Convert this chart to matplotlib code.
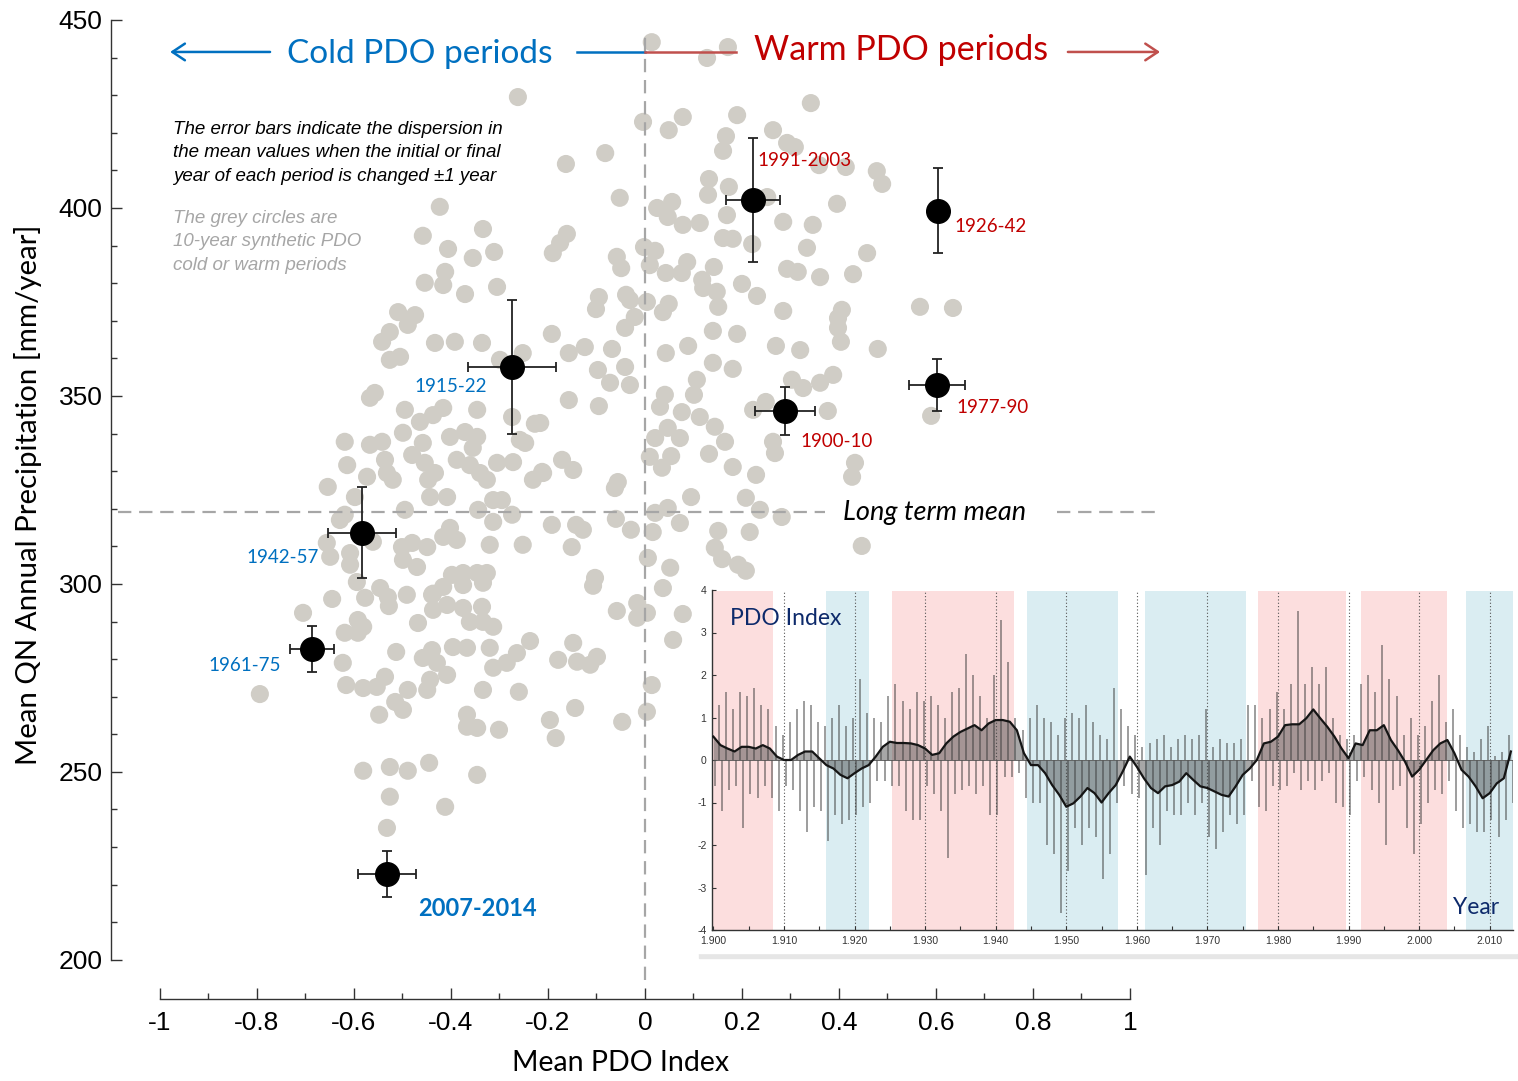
import matplotlib
matplotlib.use("Agg")
import matplotlib.pyplot as plt
import numpy as np
from matplotlib.patches import Rectangle

# ---- data -----------------------------------------------------------------
# grey circles: 10-year synthetic PDO periods (mean PDO index, mean precip)
synth_pdo = [
    0.014, 0.128, 0.171, -0.262, 0.342, -0.004, 0.078, 0.049, 0.190, 0.264,
    0.167, 0.161, 0.293, 0.309, -0.082, -0.163, 0.359, 0.414, 0.478, 0.489,
    0.132, 0.130, 0.173, 0.252, -0.052, 0.396, 0.025, 0.056, 0.047, 0.078,
    0.113, 0.169, 0.285, 0.346, -0.161, -0.175, -0.190, 0.161, 0.181, 0.221,
    0.334, 0.458, -0.058, -0.049, -0.002, 0.021, 0.010, 0.043, 0.087, 0.076,
    0.142, 0.293, 0.315, 0.361, 0.429, 0.118, 0.120, 0.148, 0.151, 0.200,
    0.231, -0.095, -0.101, -0.039, -0.031, 0.004, 0.049, 0.037, -0.021, -0.041,
    0.285, 0.406, 0.398, 0.398, 0.567, 0.635, -0.192, 0.140, 0.190, 0.404,
    0.320, 0.480, 0.388, 0.361, 0.326, 0.377, 0.590, -0.157, -0.124, -0.068,
    -0.097, -0.041, -0.072, -0.031, -0.157, -0.095, -0.216, -0.171, -0.148, -0.210,
    -0.056, -0.062, 0.043, 0.089, 0.140, 0.181, 0.270, 0.107, 0.101, 0.041,
    0.031, 0.076, 0.113, 0.144, 0.165, 0.072, 0.047, 0.021, 0.010, 0.035,
    0.054, 0.132, 0.181, 0.229, 0.303, 0.249, 0.223, 0.264, 0.268, 0.433,
    0.427, 0.095, 0.208, 0.237, 0.282, 0.047, 0.021, 0.072, 0.016, -0.029,
    -0.060, -0.128, -0.142, -0.192, -0.151, 0.151, 0.216, 0.144, 0.159, 0.192,
    0.208, 0.006, 0.052, 0.447, -0.103, -0.107, -0.058, -0.016, -0.016, 0.004,
    0.037, 0.078, 0.058, 0.014, 0.004, -0.047, -0.144, -0.196, -0.184, -0.179,
    -0.148, -0.140, -0.113, -0.099, -0.594, -0.546, -0.530, -0.528, -0.577, -0.645,
    -0.491, -0.705, -0.592, -0.581, -0.619, -0.592, -0.623, -0.616, -0.581, -0.553,
    -0.536, -0.515, -0.499, -0.548, -0.513, -0.468, -0.439, -0.416, -0.375, -0.334,
    -0.437, -0.408, -0.375, -0.336, -0.361, -0.334, -0.313, -0.458, -0.439, -0.429,
    -0.408, -0.443, -0.449, -0.489, -0.396, -0.367, -0.320, -0.334, -0.313, -0.285,
    -0.264, -0.237, -0.260, -0.367, -0.346, -0.367, -0.301, -0.794, -0.581, -0.526,
    -0.489, -0.445, -0.346, -0.526, -0.412, -0.532, -0.454, -0.416, -0.371, -0.305,
    -0.509, -0.474, -0.489, -0.526, -0.542, -0.526, -0.505, -0.433, -0.392, -0.336,
    -0.252, -0.299, -0.557, -0.567, -0.495, -0.464, -0.437, -0.416, -0.346, -0.274,
    -0.227, -0.619, -0.567, -0.542, -0.499, -0.458, -0.480, -0.402, -0.371, -0.346,
    -0.355, -0.258, -0.247, -0.536, -0.614, -0.573, -0.532, -0.520, -0.454, -0.433,
    -0.447, -0.443, -0.408, -0.388, -0.361, -0.340, -0.326, -0.305, -0.272, -0.231,
    -0.212, -0.654, -0.598, -0.495, -0.344, -0.313, -0.295, -0.274, -0.313, -0.619,
    -0.629, -0.656, -0.649, -0.608, -0.608, -0.561, -0.501, -0.480, -0.499, -0.470,
    -0.449, -0.416, -0.402, -0.388, -0.320, -0.252, -0.398, -0.375, -0.346, -0.326,
    -0.437, -0.423, -0.458, -0.334, -0.406, -0.355, -0.311, -0.412,
]
synth_precip = [
    444.1, 439.9, 442.8, 429.5, 427.9, 422.9, 424.2, 420.7, 424.7, 420.7,
    419.1, 415.2, 417.3, 416.2, 414.6, 411.7, 411.4, 410.9, 409.8, 406.4,
    407.7, 403.5, 405.6, 402.9, 402.7, 401.1, 400.0, 401.6, 397.6, 395.5,
    396.0, 398.1, 396.3, 395.5, 393.1, 390.7, 388.0, 392.0, 391.8, 390.4,
    389.4, 388.0, 387.0, 384.0, 389.6, 388.6, 384.8, 382.7, 385.6, 382.7,
    384.3, 383.8, 383.0, 381.6, 382.4, 380.9, 378.7, 377.7, 373.7, 379.8,
    376.6, 376.3, 373.1, 376.9, 375.5, 375.0, 374.5, 372.3, 371.0, 368.1,
    372.6, 372.9, 370.7, 368.1, 373.7, 373.4, 366.5, 367.3, 366.5, 364.4,
    362.2, 362.5, 355.6, 353.5, 352.1, 346.0, 344.7, 361.4, 363.0, 362.5,
    356.9, 357.7, 353.5, 352.9, 348.9, 347.3, 342.8, 333.0, 330.3, 329.5,
    327.1, 325.5, 361.4, 363.3, 358.8, 357.2, 363.3, 354.3, 350.3, 350.3,
    347.1, 345.7, 344.4, 341.8, 337.8, 338.8, 341.5, 338.8, 333.8, 330.9,
    334.0, 334.6, 331.1, 329.0, 354.3, 348.4, 346.3, 337.8, 334.8, 332.2,
    328.5, 323.1, 322.9, 319.7, 317.8, 320.2, 318.9, 316.2, 313.8, 314.4,
    317.3, 314.4, 315.7, 315.7, 309.8, 314.1, 313.8, 309.6, 306.6, 305.1,
    303.5, 306.9, 304.3, 310.1, 301.6, 299.5, 292.8, 294.9, 291.0, 292.3,
    298.9, 292.0, 285.1, 273.1, 266.0, 263.3, 267.0, 263.8, 259.0, 279.8,
    284.3, 279.3, 278.5, 280.6, 300.5, 298.9, 296.5, 294.1, 296.3, 296.0,
    297.1, 292.3, 290.4, 288.6, 287.0, 287.0, 279.0, 273.1, 272.3, 272.6,
    275.3, 268.6, 266.5, 265.2, 281.9, 289.6, 297.1, 299.2, 299.7, 300.3,
    293.1, 294.4, 293.6, 293.9, 289.9, 289.9, 288.6, 280.3, 282.4, 279.0,
    275.8, 274.5, 271.8, 271.8, 283.2, 283.0, 283.0, 271.8, 277.7, 279.0,
    281.6, 284.8, 271.3, 265.2, 261.7, 262.0, 261.2, 270.7, 250.3, 251.3,
    250.3, 252.4, 249.2, 243.4, 240.7, 235.1, 380.1, 379.5, 377.1, 379.0,
    372.3, 371.5, 368.9, 367.0, 364.4, 359.6, 360.4, 364.1, 364.4, 364.1,
    361.4, 359.6, 350.8, 349.5, 346.3, 343.1, 344.9, 346.8, 346.3, 344.4,
    342.6, 337.8, 337.0, 337.8, 340.2, 337.5, 334.3, 339.1, 340.4, 339.1,
    336.2, 338.3, 337.5, 333.0, 331.6, 328.5, 329.5, 327.7, 332.2, 329.5,
    327.7, 323.1, 323.1, 333.0, 331.6, 329.5, 327.7, 332.2, 332.4, 327.7,
    329.8, 325.8, 323.1, 319.7, 319.7, 322.3, 322.3, 318.4, 316.5, 318.4,
    317.0, 310.9, 307.2, 308.2, 305.1, 311.2, 309.8, 310.9, 306.4, 304.5,
    309.8, 312.5, 314.9, 311.7, 310.4, 310.4, 302.4, 302.9, 302.9, 302.9,
    297.4, 400.3, 392.6, 394.4, 389.1, 386.7, 388.3, 383.0,
]

# observed PDO periods (black points with error bars)
period_names = ["1991-2003", "1926-42", "1977-90", "1900-10",
                "1915-22", "1942-57", "1961-75", "2007-2014"]
period_pdo = [0.223, 0.604, 0.602, 0.289, -0.274, -0.584, -0.687, -0.532]
period_precip = [402.1, 399.2, 352.9, 346.0, 357.7, 313.6, 282.7, 222.9]
period_xerr = [0.056, 0.0, 0.058, 0.062, 0.091, 0.070, 0.045, 0.060]
period_yerr = [16.4, 11.3, 6.8, 6.5, 17.7, 12.1, 6.1, 6.1]
period_warm = [True, True, True, True, False, False, False, False]

LONG_TERM_MEAN = 319.0

x_ticks = [-1, -0.8, -0.6, -0.4, -0.2, 0, 0.2, 0.4, 0.6, 0.8, 1]
x_ticklabels = ["-1", "-0.8", "-0.6", "-0.4", "-0.2", "0",
                "0.2", "0.4", "0.6", "0.8", "1"]
y_ticks = [200, 250, 300, 350, 400, 450]

# inset: PDO index history
pdo_years = list(range(1900, 2014))
pdo_smooth = [
    0.55, 0.35, 0.27, 0.20, 0.31, 0.31, 0.27, 0.35, 0.27, 0.08,
    0.00, 0.00, 0.12, 0.20, 0.20, 0.04, -0.12, -0.20, -0.35, -0.43,
    -0.31, -0.20, -0.12, 0.08, 0.31, 0.43, 0.40, 0.40, 0.39, 0.35,
    0.27, 0.12, 0.16, 0.39, 0.55, 0.66, 0.74, 0.82, 0.70, 0.86,
    0.94, 0.94, 0.90, 0.70, 0.16, -0.12, -0.12, -0.31, -0.59, -0.82,
    -1.10, -1.02, -0.86, -0.66, -0.78, -1.00, -0.78, -0.59, -0.27, 0.08,
    -0.16, -0.43, -0.66, -0.78, -0.62, -0.59, -0.51, -0.31, -0.47, -0.62,
    -0.66, -0.74, -0.82, -0.86, -0.62, -0.35, -0.20, 0.00, 0.39, 0.43,
    0.55, 0.82, 0.84, 0.84, 0.98, 1.19, 0.98, 0.78, 0.55, 0.27,
    0.04, 0.39, 0.35, 0.70, 0.70, 0.82, 0.47, 0.23, -0.04, -0.39,
    -0.23, 0.00, 0.23, 0.39, 0.47, 0.16, -0.23, -0.39, -0.62, -0.90,
    -0.78, -0.55, -0.43, 0.20,
]
pdo_high = [
    1.0, 1.3, 1.6, 1.2, 1.6, 1.5, 1.7, 1.3, 1.2, 0.8,
    0.6, 0.9, 1.2, 1.4, 1.3, 0.9, 0.8, 1.0, 1.3, 0.8,
    1.0, 1.9, 1.1, 1.0, 0.9, 1.5, 1.8, 1.4, 1.2, 1.6,
    1.4, 1.5, 1.3, 1.0, 1.6, 1.7, 2.5, 2.0, 1.5, 1.0,
    2.0, 3.3, 2.3, 1.0, 0.7, 1.0, 1.3, 1.0, 0.9, 0.6,
    1.0, 1.1, 1.0, 1.3, 0.9, 0.6, 0.5, 1.7, 1.2, 0.8,
    0.6, 0.3, 0.4, 0.5, 0.6, 0.3, 0.5, 0.6, 0.5, 0.6,
    1.2, 0.3, 0.5, 0.4, 0.4, 0.5, 1.3, 1.3, 1.0, 1.2,
    1.6, 1.2, 1.8, 3.5, 1.8, 2.2, 1.8, 2.2, 1.0, 0.6,
    0.5, 0.6, 1.8, 2.0, 1.6, 2.7, 1.9, 1.5, 0.6, 1.0,
    0.6, 0.8, 1.4, 2.0, 0.9, 1.2, 0.6, 0.3, 0.2, 0.5,
    0.8, 0.1, 0.2, 0.6,
]
pdo_low = [
    -0.6, -1.2, -0.7, -0.6, -1.6, -0.8, -0.9, -0.6, -0.9, -1.2,
    -0.6, -0.7, -1.2, -1.7, -1.1, -1.2, -1.9, -1.3, -1.5, -1.4,
    -1.3, -1.1, -1.0, -0.5, -0.5, -0.6, -0.6, -1.2, -1.4, -1.4,
    -0.6, -0.8, -1.2, -2.3, -0.8, -0.7, -0.6, -0.8, -0.6, -1.3,
    -1.3, -0.4, -0.4, -0.3, -0.9, -1.0, -1.0, -2.0, -2.2, -3.6,
    -2.6, -1.6, -2.0, -1.6, -1.8, -2.8, -2.2, -1.0, -0.6, -0.8,
    -0.9, -2.7, -1.6, -2.0, -1.2, -1.3, -1.3, -1.0, -1.3, -1.0,
    -1.8, -2.1, -1.7, -1.3, -1.5, -1.3, -0.5, -1.1, -1.2, -0.6,
    -0.7, -0.6, -0.3, -0.7, -0.5, -0.7, -0.5, -0.3, -1.0, -1.1,
    -1.3, -0.5, -0.4, -0.7, -1.0, -2.0, -0.7, -0.6, -1.6, -2.2,
    -1.5, -1.0, -0.7, -0.8, -0.5, -1.2, -1.6, -1.5, -1.7, -1.7,
    -1.4, -1.8, -1.4, -1.0,
]
warm_spans = [(1900.0, 1908.5), (1925.3, 1942.6), (1977.2, 1989.7), (1991.7, 2003.9)]
cold_spans = [(1916.0, 1922.0), (1944.4, 1957.3), (1961.2, 1975.4), (2006.6, 2013.3)]
inset_xticks = [1900, 1910, 1920, 1930, 1940, 1950, 1960, 1970, 1980, 1990, 2000, 2010]
inset_xticklabels = ["1.900", "1.910", "1.920", "1.930", "1.940", "1.950",
                     "1.960", "1.970", "1.980", "1.990", "2.000", "2.010"]
inset_yticks = [-4, -3, -2, -1, 0, 1, 2, 3, 4]

# ---- style ----------------------------------------------------------------
BLUE = "#0070c0"
RED = "#c00000"
RED_ARROW = "#c0504d"
GREY_DOT = "#d0cdc6"
DASH_GREY = "#a6a6a6"
PINK = "#fcdede"
LBLUE = "#daedf2"
NAVY = "#0d2a6b"
SANS = ["Liberation Sans", "DejaVu Sans"]
CAL = ["Lato", "DejaVu Sans"]

fig = plt.figure(figsize=(15.18, 10.81), dpi=100)
fig.patch.set_facecolor("white")

ax = fig.add_axes([0.0731, 0.0759, 0.6911, 0.9056])
ax.set_xlim(-1.101, 1.062)
ax.set_ylim(189.6, 450)
ax.patch.set_alpha(0)

for side in ("top", "right"):
    ax.spines[side].set_visible(False)
ax.spines["left"].set_bounds(200, 450)
ax.spines["bottom"].set_bounds(-1, 1)
for side in ("left", "bottom"):
    ax.spines[side].set_color("#333333")
    ax.spines[side].set_linewidth(1.0)

ax.set_xticks(x_ticks)
ax.set_xticklabels(x_ticklabels)
ax.set_xticks(np.arange(-0.9, 1.0, 0.2), minor=True)
ax.set_yticks(y_ticks)
ax.set_yticklabels([str(v) for v in y_ticks])
ax.set_yticks(np.arange(210, 450, 10), minor=True)
ax.tick_params(which="major", direction="in", length=8, width=1.0,
               color="#333333", labelsize=19, pad=9)
ax.tick_params(which="minor", direction="in", length=4, width=1.0, color="#333333")
ax.tick_params(axis="y", pad=6)
for lab in ax.get_xticklabels() + ax.get_yticklabels():
    lab.set_family(SANS)

ax.set_xlabel("Mean PDO Index", fontsize=20.5, family=CAL)
ax.xaxis.set_label_coords(0.486, -0.052)
ax.set_ylabel("Mean QN Annual Precipitation [mm/year]", fontsize=21.2, family=CAL)
ax.yaxis.set_label_coords(-0.066, 0.515)

# grey synthetic periods
ax.scatter(synth_pdo, synth_precip, s=170, color=GREY_DOT, edgecolors="none", zorder=2)

# reference lines
dash = (0, (6, 3.5))
ax.plot([-1.087, 0.371], [LONG_TERM_MEAN] * 2, color=DASH_GREY, lw=1.6, ls=dash, zorder=3)
ax.plot([0.849, 1.062], [LONG_TERM_MEAN] * 2, color=DASH_GREY, lw=1.6, ls=dash, zorder=3)
ax.plot([0, 0], [194.7, 446], color=DASH_GREY, lw=1.6, ls=dash, zorder=3)
ax.text(0.408, LONG_TERM_MEAN, "Long term mean", fontsize=19.5, style="italic",
        family=CAL, va="center", ha="left")

# observed periods
ax.errorbar(period_pdo, period_precip, xerr=period_xerr, yerr=period_yerr,
            fmt="o", ms=17, mfc="black", mec="black", ecolor="#222222",
            elinewidth=1.3, capsize=3.5, capthick=1.3, zorder=5)

label_offsets = {
    "1991-2003": (0.008, 10.4), "1926-42": (0.035, -4.2), "1977-90": (0.041, -6.1),
    "1900-10": (0.031, -8.0), "1915-22": (-0.202, -5.3), "1942-57": (-0.237, -6.7),
    "1961-75": (-0.214, -4.5), "2007-2014": (0.064, -9.3),
}
for name, px, py, warm in zip(period_names, period_pdo, period_precip, period_warm):
    dx, dy = label_offsets[name]
    big = name == "2007-2014"
    ax.text(px + dx, py + dy, name, color=RED if warm else BLUE,
            fontsize=17 if big else 13.5, fontweight="bold" if big else "normal",
            family=CAL, ha="left", va="center", zorder=6)

# header arrows and titles
ah = dict(arrowstyle="->,head_length=0.45,head_width=0.3", lw=1.8,
          mutation_scale=20, shrinkA=0, shrinkB=0)
ax.annotate("", xy=(-0.979, 441.5), xytext=(-0.773, 441.5),
            arrowprops=dict(color=BLUE, **ah))
ax.annotate("", xy=(1.062, 441.5), xytext=(0.872, 441.5),
            arrowprops=dict(color=RED_ARROW, **ah))
ax.plot([-0.140, 0], [441.5, 441.5], color=BLUE, lw=1.8, zorder=4)
ax.plot([0, 0.188], [441.5, 441.5], color=RED_ARROW, lw=1.8, zorder=4)
ax.text(-0.464, 441.0, "Cold PDO periods", color=BLUE, fontsize=24, family=CAL,
        ha="center", va="center")
ax.text(0.528, 442.0, "Warm PDO periods", color=RED, fontsize=24.5, family=CAL,
        ha="center", va="center")

ax.text(-0.973, 423.2,
        "The error bars indicate the dispersion in\n"
        "the mean values when the initial or final\n"
        "year of each period is changed \u00b11 year",
        fontsize=13.5, style="italic", family=SANS, ha="left", va="top",
        linespacing=1.5)
ax.text(-0.973, 399.5,
        "The grey circles are\n10-year synthetic PDO\ncold or warm periods",
        fontsize=13.5, style="italic", family=SANS, color="#a6a6a6",
        ha="left", va="top", linespacing=1.5)

# ---- inset ----------------------------------------------------------------
W, H = 1518.0, 1081.0
fig.patches.append(Rectangle((699 / W, 1 - 958 / H), 822 / W, 372 / H,
                             transform=fig.transFigure, color="#e6e6e6", zorder=1))
fig.patches.append(Rectangle((695 / W, 1 - 953 / H), 822 / W, 370 / H,
                             transform=fig.transFigure, color="white", zorder=1.5))

iax = fig.add_axes([712 / W, 1 - 930 / H, 801 / W, 340 / H], zorder=3)
iax.set_xlim(1899.8, 2013.3)
iax.set_ylim(-4, 4)
for a, b in warm_spans:
    iax.axvspan(a, b, ymin=0.0, ymax=0.997, color=PINK, lw=0, zorder=0)
for a, b in cold_spans:
    iax.axvspan(a, b, ymin=0.0, ymax=0.997, color=LBLUE, lw=0, zorder=0)
for yr in inset_xticks[1:]:
    iax.axvline(yr, color="#555555", ls=(0, (1, 2)), lw=0.8, zorder=1)

yrs = np.array(pdo_years, dtype=float)
sm = np.array(pdo_smooth)
iax.fill_between(yrs, 0, sm, color="#3c3c3c", alpha=0.45, lw=0, zorder=2)
iax.vlines(yrs - 0.2, 0, pdo_high, color="#3c3c3c", lw=1.4, alpha=0.5, zorder=2)
iax.vlines(yrs + 0.25, 0, pdo_low, color="#3c3c3c", lw=1.4, alpha=0.5, zorder=2)
iax.axhline(0, color="#555555", lw=0.6, zorder=2)
iax.plot(yrs, sm, color="#151515", lw=1.6, zorder=3)

for side in ("top", "right"):
    iax.spines[side].set_visible(False)
for side in ("left", "bottom"):
    iax.spines[side].set_color("#333333")
    iax.spines[side].set_linewidth(1.0)
iax.set_xticks(inset_xticks)
iax.set_xticklabels(inset_xticklabels)
iax.set_xticks(np.arange(1905, 2013, 10), minor=True)
iax.set_yticks(inset_yticks)
iax.set_yticklabels([str(v) for v in inset_yticks])
iax.tick_params(which="both", direction="in", length=3, width=0.8,
                color="#333333", labelsize=7.5, labelcolor="#333333", pad=4)
for lab in iax.get_xticklabels() + iax.get_yticklabels():
    lab.set_family(SANS)

iax.text(1902.4, 3.32, "PDO Index", color=NAVY, fontsize=16.5, family=CAL,
         ha="left", va="center", zorder=4)
iax.text(2004.8, -3.46, "Year", color=NAVY, fontsize=16.5, family=CAL,
         ha="left", va="center", zorder=4)

fig.savefig("out.png", dpi=100, facecolor="white")
